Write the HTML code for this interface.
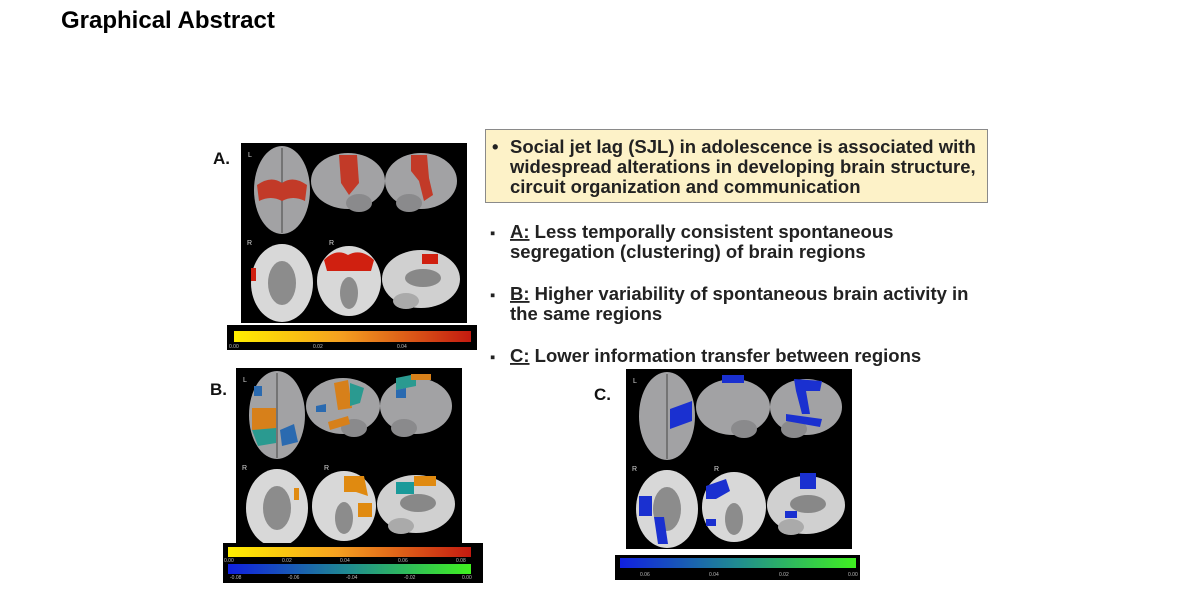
<!DOCTYPE html>
<html><head><meta charset="utf-8"><style>
html,body{margin:0;padding:0;background:#fff;width:1200px;height:604px;overflow:hidden}
svg{display:block}
</style></head><body>
<svg width="1200" height="604" viewBox="0 0 1200 604" xmlns="http://www.w3.org/2000/svg" font-family="Liberation Sans, sans-serif">
<defs>
<linearGradient id="yr" x1="0" x2="1"><stop offset="0" stop-color="#ffee00"/><stop offset="0.45" stop-color="#f5a020"/><stop offset="1" stop-color="#c41a10"/></linearGradient>
<linearGradient id="bg" x1="0" x2="1"><stop offset="0" stop-color="#1020e0"/><stop offset="0.5" stop-color="#208c90"/><stop offset="1" stop-color="#40f020"/></linearGradient>
<g id="base">
<rect x="0" y="0" width="226" height="180" fill="#000"/>
<ellipse cx="41" cy="47" rx="28" ry="44" fill="#a2a2a4"/>
<line x1="41" y1="5" x2="41" y2="90" stroke="#555" stroke-width="1.2"/>
<ellipse cx="107" cy="38" rx="37" ry="28" fill="#a2a2a4"/>
<ellipse cx="118" cy="60" rx="13" ry="9" fill="#8a8a8c"/>
<ellipse cx="180" cy="38" rx="36" ry="28" fill="#a2a2a4"/>
<ellipse cx="168" cy="60" rx="13" ry="9" fill="#8a8a8c"/>
<ellipse cx="41" cy="140" rx="31" ry="39" fill="#d8d8d8"/>
<ellipse cx="41" cy="140" rx="14" ry="22" fill="#8c8c8c"/>
<ellipse cx="108" cy="138" rx="32" ry="35" fill="#d8d8d8"/>
<ellipse cx="108" cy="150" rx="9" ry="16" fill="#8c8c8c"/>
<ellipse cx="180" cy="136" rx="39" ry="29" fill="#d0d0d0"/>
<ellipse cx="182" cy="135" rx="18" ry="9" fill="#888"/>
<ellipse cx="165" cy="158" rx="13" ry="8" fill="#aaa"/>
<text x="7" y="14" fill="#ddd" font-size="7">L</text>
<text x="6" y="102" fill="#ddd" font-size="7">R</text>
<text x="88" y="102" fill="#ddd" font-size="7">R</text>
</g>
</defs>

<text x="61" y="28" font-size="24" font-weight="bold" fill="#000">Graphical Abstract</text>

<!-- Panel A -->
<text x="213" y="164" font-size="17" font-weight="bold" fill="#111">A.</text>
<g transform="translate(241,143)">
<use href="#base"/>
<path d="M16 42 Q30 32 41 40 Q52 32 66 42 L64 58 Q52 52 41 58 Q30 52 18 58Z" fill="#c23a28"/>
<path d="M98 12 L116 12 L118 40 L108 52 L100 40Z" fill="#c23a28"/>
<path d="M170 12 L186 12 L188 35 L192 52 L183 58 L178 38 L170 28Z" fill="#c23a28"/>
<path d="M10 125 L15 125 L15 138 L10 138Z" fill="#d02010"/>
<path d="M83 117 Q95 105 107 112 Q120 105 133 117 L130 128 L86 128Z" fill="#d02010"/>
<rect x="181" y="111" width="16" height="10" fill="#d02010"/>
</g>
<rect x="227" y="325" width="250" height="25" fill="#000"/>
<rect x="234" y="331" width="237" height="11" fill="url(#yr)"/>
<g font-size="5" fill="#bbb"><text x="229" y="348">0.00</text><text x="313" y="348">0.02</text><text x="397" y="348">0.04</text></g>

<!-- Panel B -->
<text x="210" y="395" font-size="17" font-weight="bold" fill="#111">B.</text>
<g transform="translate(236,368)">
<use href="#base"/>
<path d="M16 40 L40 40 L40 62 L16 62Z" fill="#d7801a"/>
<path d="M16 62 L40 60 L40 75 L22 78Z" fill="#2a9a90"/>
<path d="M44 62 L58 56 L62 74 L46 78Z" fill="#2a6ab0"/>
<path d="M18 18 L26 18 L26 28 L18 28Z" fill="#2a6ab0"/>
<path d="M98 15 L112 12 L116 40 L102 42Z" fill="#d7801a"/>
<path d="M114 15 L128 20 L124 35 L114 38Z" fill="#2a9a90"/>
<path d="M92 54 L112 48 L114 56 L94 62Z" fill="#d7801a"/>
<path d="M80 38 L90 36 L90 44 L80 44Z" fill="#2a6ab0"/>
<path d="M160 10 L180 6 L180 18 L160 22Z" fill="#2a9a90"/>
<path d="M175 6 L195 6 L195 12 L175 12Z" fill="#d7801a"/>
<path d="M160 22 L170 20 L170 30 L160 30Z" fill="#2a6ab0"/>
<rect x="58" y="120" width="5" height="12" fill="#e08a10"/>
<path d="M108 108 L128 108 L132 128 L120 124 L108 124Z" fill="#e08a10"/>
<rect x="122" y="135" width="14" height="14" fill="#e08a10"/>
<rect x="160" y="114" width="18" height="12" fill="#1a9a9a"/>
<rect x="178" y="108" width="22" height="10" fill="#e08a10"/>
</g>
<rect x="223" y="543" width="260" height="40" fill="#000"/>
<rect x="228" y="547" width="243" height="10" fill="url(#yr)"/>
<rect x="228" y="564" width="243" height="10" fill="url(#bg)"/>
<g font-size="5" fill="#bbb"><text x="224" y="562">0.00</text><text x="282" y="562">0.02</text><text x="340" y="562">0.04</text><text x="398" y="562">0.06</text><text x="456" y="562">0.08</text>
<text x="230" y="579">-0.08</text><text x="288" y="579">-0.06</text><text x="346" y="579">-0.04</text><text x="404" y="579">-0.02</text><text x="462" y="579">0.00</text></g>

<!-- Panel C -->
<text x="594" y="400" font-size="17" font-weight="bold" fill="#111">C.</text>
<g transform="translate(626,369)">
<use href="#base"/>
<path d="M44 40 L66 32 L66 52 L44 60Z" fill="#1a30d0"/>
<path d="M96 6 L118 6 L118 14 L96 14Z" fill="#1a30d0"/>
<path d="M168 10 L196 12 L194 22 L180 22 L184 45 L176 45 L170 22Z" fill="#1a30d0"/>
<path d="M160 45 L196 50 L194 58 L160 52Z" fill="#1a30d0"/>
<path d="M13 127 L26 127 L26 147 L13 147Z" fill="#1a30d0"/>
<path d="M28 148 L38 148 L42 175 L32 175Z" fill="#1a30d0"/>
<path d="M80 117 L100 110 L104 122 L90 130 L80 130Z" fill="#1a30d0"/>
<rect x="80" y="150" width="10" height="7" fill="#1a30d0"/>
<rect x="174" y="104" width="16" height="16" fill="#1a30d0"/>
<rect x="159" y="142" width="12" height="7" fill="#1a30d0"/>
</g>
<rect x="615" y="555" width="245" height="25" fill="#000"/>
<rect x="620" y="558" width="236" height="10" fill="url(#bg)"/>
<g font-size="5" fill="#bbb"><text x="640" y="576">0.06</text><text x="709" y="576">0.04</text><text x="779" y="576">0.02</text><text x="848" y="576">0.00</text></g>

<!-- Text -->
<rect x="485.5" y="129.5" width="502" height="73" fill="#fdf2c8" stroke="#8a8a8a" stroke-width="1"/>
<g font-size="18.5" font-weight="bold" fill="#222">
<text x="492" y="153">•</text>
<text x="510" y="153">Social jet lag (SJL) in adolescence is associated with</text>
<text x="510" y="173">widespread alterations in developing brain structure,</text>
<text x="510" y="193">circuit organization and communication</text>
<text x="490" y="238" font-size="15">▪</text>
<text x="510" y="238"><tspan text-decoration="underline">A:</tspan> Less temporally consistent spontaneous</text>
<text x="510" y="258">segregation (clustering) of brain regions</text>
<text x="490" y="300" font-size="15">▪</text>
<text x="510" y="300"><tspan text-decoration="underline">B:</tspan> Higher variability of spontaneous brain activity in</text>
<text x="510" y="320">the same regions</text>
<text x="490" y="362" font-size="15">▪</text>
<text x="510" y="362"><tspan text-decoration="underline">C:</tspan> Lower information transfer between regions</text>
</g>
</svg>
</body></html>
